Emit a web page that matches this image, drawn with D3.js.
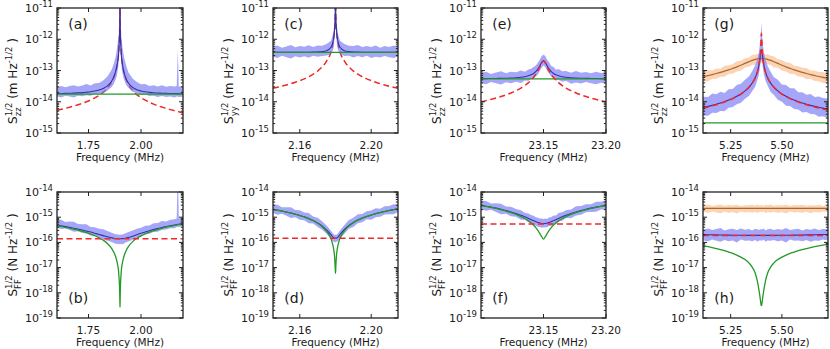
<!DOCTYPE html>
<html><head><meta charset="utf-8">
<script src="https://cdn.jsdelivr.net/npm/d3@7"></script>
<style>body{margin:0;background:#fff} text{font-family:"DejaVu Sans",sans-serif;fill:#1a1a1a}</style>
</head><body><svg id="c" width="830" height="349"></svg>
<script>
// ---------- axis settings ----------
const aDomain=[1.6,2.2], cDomain=[2.145,2.215], eDomain=[23.1,23.2], gDomain=[5.115,5.725];
const aTicks=[1.75,2.00], cTicks=[2.16,2.20], eTicks=[23.15,23.20], gTicks=[5.25,5.50];
const aTickLabels=['1.75','2.00'], cTickLabels=['2.16','2.20'], eTickLabels=['23.15','23.20'], gTickLabels=['5.25','5.50'];
const topDomain=[1e-15,1e-11], bottomDomain=[1e-19,1e-14];
const topExps=[-15,-14,-13,-12,-11], bottomExps=[-19,-18,-17,-16,-15,-14];

// ---------- panels (a)/(b) ----------
const aFreq=[1.60,1.62,1.64,1.66,1.68,1.70,1.72,1.74,1.76,1.78,1.80,1.82,1.84,1.86,1.87,1.88,1.885,1.89,1.893,1.895,1.897,1.8985,1.8993,1.8997,1.90,1.9003,1.9007,1.9015,1.903,1.905,1.907,1.91,1.915,1.92,1.93,1.94,1.96,1.98,2.00,2.02,2.04,2.06,2.08,2.10,2.12,2.14,2.16,2.17,2.175,2.18,2.20];
const aFit=[1.83e-14,1.84e-14,1.85e-14,1.87e-14,1.89e-14,1.92e-14,1.96e-14,2.02e-14,2.09e-14,2.2e-14,2.37e-14,2.66e-14,3.22e-14,4.55e-14,6.15e-14,9.66e-14,1.36e-13,2.21e-13,3.3e-13,5.5e-13,1e-12,2.2e-12,5e-12,1.1e-11,3e-11,9.5e-12,4.3e-12,1.9e-12,8.5e-13,4.7e-13,2.8e-13,1.88e-13,1.16e-13,8.29e-14,5.3e-14,4e-14,2.89e-14,2.43e-14,2.21e-14,2.08e-14,2e-14,1.94e-14,1.9e-14,1.88e-14,1.85e-14,1.84e-14,1.83e-14,1.82e-14,1.82e-14,1.81e-14,1.81e-14];
const aHi=[2.9e-14,3.2e-14,2.9e-14,3.2e-14,3.4e-14,3.1e-14,3.3e-14,3.7e-14,3.3e-14,3.9e-14,4e-14,4.8e-14,6.4e-14,1.05e-13,1.6e-13,2.9e-13,4.8e-13,8.4e-13,1.15e-12,1.65e-12,2.5e-12,4.4e-12,1e-11,2.2e-11,6e-11,1.9e-11,8.6e-12,4.2e-12,2.2e-12,1.4e-12,9.8e-13,6.8e-13,3.9e-13,2.5e-13,1.4e-13,8.8e-14,5.5e-14,4.3e-14,3.6e-14,3.7e-14,3.2e-14,3.4e-14,3.1e-14,3.4e-14,3e-14,3.2e-14,3.1e-14,3.2e-14,4.6e-13,3.1e-14,3e-14];
const aLo=[1.46e-14,1.38e-14,1.57e-14,1.46e-14,1.36e-14,1.57e-14,1.49e-14,1.62e-14,1.55e-14,1.76e-14,1.78e-14,1.92e-14,2.25e-14,2.96e-14,3.7e-14,5.3e-14,6.8e-14,1.1e-13,1.65e-13,2.75e-13,5e-13,1.1e-12,2.5e-12,5.5e-12,1.5e-11,4.8e-12,2.2e-12,9.5e-13,4.3e-13,2.4e-13,1.4e-13,9.4e-14,6.4e-14,5e-14,3.4e-14,2.8e-14,2.08e-14,1.9e-14,1.66e-14,1.7e-14,1.52e-14,1.55e-14,1.41e-14,1.54e-14,1.42e-14,1.47e-14,1.37e-14,1.46e-14,1.46e-14,1.41e-14,1.45e-14];
const aRed=[5.33e-15,5.71e-15,6.15e-15,6.67e-15,7.27e-15,8e-15,8.89e-15,1e-14,1.14e-14,1.33e-14,1.6e-14,2e-14,2.7e-14,4.2e-14,5.9e-14,9.5e-14,1.35e-13,2.2e-13,3.3e-13,5.5e-13,1e-12,2.2e-12,5e-12,1.1e-11,3e-11,9.5e-12,4.3e-12,1.9e-12,8.5e-13,4.7e-13,2.8e-13,1.87e-13,1.15e-13,8.1e-14,5e-14,3.6e-14,2.3e-14,1.69e-14,1.35e-14,1.13e-14,9.6e-15,8.4e-15,7.5e-15,6.75e-15,6.1e-15,5.6e-15,5.2e-15,5e-15,4.9e-15,4.8e-15,4.5e-15];
const aGreenFreq=[1.6,2.2], aGreen=[1.75e-14,1.75e-14];
const bGreen=[4.6e-16,4.29e-16,3.98e-16,3.67e-16,3.37e-16,3.06e-16,2.76e-16,2.45e-16,2.15e-16,1.84e-16,1.53e-16,1.23e-16,9.1e-17,5.8e-17,4.15e-17,2.58e-17,1.81e-17,1.11e-17,7.4e-18,4.45e-18,2.45e-18,1.11e-18,4.9e-19,3.6e-19,2.7e-19,3.6e-19,5.7e-19,1.29e-18,2.88e-18,5.2e-18,8.75e-18,1.31e-17,2.13e-17,3.02e-17,4.9e-17,6.8e-17,1.07e-16,1.45e-16,1.81e-16,2.17e-16,2.55e-16,2.92e-16,3.27e-16,3.63e-16,4.02e-16,4.38e-16,4.71e-16,4.9e-16,5e-16,5.1e-16,5.44e-16];
const bFit=[4.81e-16,4.51e-16,4.22e-16,3.93e-16,3.65e-16,3.36e-16,3.1e-16,2.82e-16,2.57e-16,2.31e-16,2.07e-16,1.86e-16,1.67e-16,1.52e-16,1.46e-16,1.42e-16,1.41e-16,1.4e-16,1.4e-16,1.4e-16,1.4e-16,1.4e-16,1.4e-16,1.4e-16,1.4e-16,1.4e-16,1.4e-16,1.4e-16,1.4e-16,1.4e-16,1.4e-16,1.41e-16,1.42e-16,1.43e-16,1.48e-16,1.56e-16,1.76e-16,2.02e-16,2.29e-16,2.58e-16,2.91e-16,3.24e-16,3.56e-16,3.89e-16,4.26e-16,4.6e-16,4.91e-16,5.1e-16,5.19e-16,5.29e-16,5.62e-16];
const bHi=[7.7e-16,7.9e-16,6.5e-16,6.7e-16,6.6e-16,5.4e-16,5.3e-16,5.2e-16,4.1e-16,4e-16,3.5e-16,3.35e-16,2.84e-16,2.43e-16,2.26e-16,2.13e-16,2.04e-16,2.1e-16,1.96e-16,2.1e-16,2.03e-16,1.96e-16,2e-16,1.95e-16,2.05e-16,1.95e-16,2e-16,2.1e-16,1.95e-16,2.05e-16,2.1e-16,2.03e-16,2.13e-16,2.2e-16,2.37e-16,2.57e-16,3e-16,3.5e-16,3.8e-16,4.6e-16,4.7e-16,5.7e-16,5.9e-16,7e-16,6.8e-16,8e-16,8.3e-16,8.9e-16,1e-13,9e-16,9e-16];
const bLo=[3.85e-16,3.38e-16,3.59e-16,3.07e-16,2.63e-16,2.76e-16,2.36e-16,2.26e-16,1.9e-16,1.85e-16,1.55e-16,1.34e-16,1.17e-16,1.03e-16,9.5e-17,8.8e-17,8.5e-17,9.1e-17,8.1e-17,8.7e-17,8.4e-17,9.1e-17,8.4e-17,8.8e-17,8.2e-17,8.8e-17,8.5e-17,9e-17,8.3e-17,8.8e-17,8.4e-17,8.7e-17,8.5e-17,9.3e-17,1.01e-16,1.09e-16,1.27e-16,1.58e-16,1.72e-16,2.12e-16,2.21e-16,2.59e-16,2.63e-16,3.19e-16,3.28e-16,3.68e-16,3.68e-16,4.08e-16,4.15e-16,4.13e-16,4.5e-16];
const bRedFreq=[1.6,2.2], bRed=[1.4e-16,1.4e-16];

// ---------- panels (c)/(d) ----------
const cFreq=[2.145,2.1475,2.15,2.1525,2.155,2.1575,2.16,2.1625,2.165,2.1675,2.17,2.1725,2.175,2.1775,2.1785,2.179,2.1795,2.1798,2.18,2.1802,2.1805,2.181,2.1815,2.1825,2.185,2.1875,2.19,2.1925,2.195,2.1975,2.2,2.2025,2.205,2.2075,2.21,2.2125,2.215];
const cFit=[3.81e-13,3.81e-13,3.81e-13,3.815e-13,3.82e-13,3.82e-13,3.83e-13,3.84e-13,3.85e-13,3.875e-13,3.92e-13,4.02e-13,4.29e-13,5.52e-13,7.96e-13,1.12e-12,2.13e-12,5.01e-12,3e-11,5.01e-12,2.13e-12,1.12e-12,7.96e-13,5.52e-13,4.29e-13,4.02e-13,3.92e-13,3.875e-13,3.85e-13,3.84e-13,3.83e-13,3.82e-13,3.82e-13,3.815e-13,3.81e-13,3.81e-13,3.81e-13];
const cRed=[2.7e-14,2.91e-14,3.15e-14,3.44e-14,3.78e-14,4.2e-14,4.73e-14,5.4e-14,6.3e-14,7.6e-14,9.6e-14,1.3e-13,2e-13,4e-13,7e-13,1.05e-12,2.1e-12,5e-12,3e-11,5e-12,2.1e-12,1.05e-12,7e-13,4e-13,2e-13,1.3e-13,9.6e-14,7.6e-14,6.3e-14,5.4e-14,4.73e-14,4.2e-14,3.78e-14,3.44e-14,3.15e-14,2.91e-14,2.7e-14];
const cHi=[5.7e-13,6.3e-13,5.3e-13,5.9e-13,6.5e-13,5.5e-13,6.1e-13,5.8e-13,6.4e-13,5.6e-13,6.3e-13,6.2e-13,7e-13,9e-13,1.4e-12,2e-12,3.6e-12,8e-12,6e-11,8e-12,3.6e-12,2e-12,1.4e-12,9e-13,7e-13,6.2e-13,6.1e-13,6.6e-13,5.6e-13,6.1e-13,5.7e-13,6.3e-13,5.3e-13,6.1e-13,5.7e-13,6.3e-13,5.7e-13];
const cLo=[2.74e-13,2.51e-13,2.97e-13,2.67e-13,2.44e-13,2.87e-13,2.6e-13,2.84e-13,2.54e-13,2.95e-13,2.74e-13,2.9e-13,3e-13,3.3e-13,4.4e-13,5.6e-13,1.07e-12,2.5e-12,1.5e-11,2.5e-12,1.07e-12,5.6e-13,4.4e-13,3.3e-13,2.92e-13,2.97e-13,2.59e-13,2.9e-13,2.66e-13,2.96e-13,2.49e-13,2.75e-13,2.6e-13,2.9e-13,2.67e-13,2.51e-13,2.78e-13];
const cGreenFreq=[2.145,2.215], cGreen=[3.8e-13,3.8e-13];
const dGreen=[2.04e-15,1.89e-15,1.75e-15,1.6e-15,1.46e-15,1.31e-15,1.16e-15,1.02e-15,8.7e-16,7.25e-16,5.74e-16,4.24e-16,2.76e-16,1.38e-16,7.9e-17,5.2e-17,2.6e-17,1.1e-17,5.9e-18,1.15e-17,2.7e-17,5.5e-17,8.3e-17,1.45e-16,2.9e-16,4.45e-16,6e-16,7.6e-16,9.1e-16,1.07e-15,1.22e-15,1.38e-15,1.53e-15,1.68e-15,1.84e-15,1.98e-15,2.14e-15];
const dFit=[2.05e-15,1.9e-15,1.76e-15,1.61e-15,1.47e-15,1.32e-15,1.17e-15,1.03e-15,8.82e-16,7.4e-16,5.92e-16,4.48e-16,3.12e-16,2e-16,1.65e-16,1.54e-16,1.47e-16,1.455e-16,1.45e-16,1.455e-16,1.47e-16,1.55e-16,1.67e-16,2.06e-16,3.25e-16,4.68e-16,6.2e-16,7.7e-16,9.2e-16,1.07e-15,1.22e-15,1.38e-15,1.54e-15,1.69e-15,1.85e-15,2e-15,2.15e-15];
const dHi=[3.1e-15,3.1e-15,2.46e-15,2.5e-15,2.5e-15,1.91e-15,1.87e-15,1.55e-15,1.46e-15,1.07e-15,9.5e-16,6.9e-16,4.7e-16,2.9e-16,2.3e-16,2.16e-16,1.98e-16,2.04e-16,1.96e-16,2.04e-16,1.98e-16,2.17e-16,2.34e-16,2.99e-16,4.9e-16,7.7e-16,9.6e-16,1.31e-15,1.33e-15,1.71e-15,1.83e-15,2.28e-15,2.16e-15,2.7e-15,2.78e-15,3.3e-15,3.2e-15];
const dLo=[1.48e-15,1.25e-15,1.37e-15,1.13e-15,9.4e-16,9.9e-16,8e-16,7.6e-16,5.8e-16,5.6e-16,4.1e-16,3.2e-16,2.18e-16,1.36e-16,1.09e-16,1.08e-16,1e-16,1.05e-16,9.9e-17,1.02e-16,1.06e-16,1.05e-16,1.17e-16,1.44e-16,2.21e-16,3.46e-16,4.1e-16,5.8e-16,6.3e-16,8.2e-16,7.9e-16,9.9e-16,1.05e-15,1.28e-15,1.3e-15,1.32e-15,1.57e-15];
const dRedFreq=[2.145,2.215], dRed=[1.45e-16,1.45e-16];

// ---------- panels (e)/(f) ----------
const eFreq=[23.1,23.104,23.108,23.112,23.116,23.12,23.124,23.128,23.132,23.135,23.138,23.14,23.142,23.144,23.1455,23.147,23.1485,23.15,23.1515,23.153,23.1545,23.156,23.158,23.16,23.162,23.165,23.168,23.172,23.176,23.18,23.184,23.188,23.192,23.196,23.2];
const eFit=[5.49e-14,5.51e-14,5.53e-14,5.56e-14,5.6e-14,5.65e-14,5.73e-14,5.85e-14,6.06e-14,6.32e-14,6.77e-14,7.26e-14,8.05e-14,9.4e-14,1.11e-13,1.39e-13,1.8e-13,2.07e-13,1.8e-13,1.39e-13,1.11e-13,9.4e-14,8.05e-14,7.26e-14,6.77e-14,6.32e-14,6.06e-14,5.85e-14,5.73e-14,5.65e-14,5.6e-14,5.56e-14,5.53e-14,5.51e-14,5.49e-14];
const eRed=[9.99e-15,1.085e-14,1.19e-14,1.31e-14,1.47e-14,1.66e-14,1.91e-14,2.26e-14,2.75e-14,3.29e-14,4.08e-14,4.85e-14,5.97e-14,7.69e-14,9.71e-14,1.28e-13,1.715e-13,2e-13,1.715e-13,1.28e-13,9.71e-14,7.69e-14,5.97e-14,4.85e-14,4.08e-14,3.29e-14,2.75e-14,2.26e-14,1.91e-14,1.66e-14,1.47e-14,1.31e-14,1.19e-14,1.085e-14,9.99e-15];
const eHi=[8.2e-14,9.1e-14,7.7e-14,8.6e-14,9.5e-14,8.2e-14,9.2e-14,8.8e-14,1e-13,9.2e-14,1.08e-13,1.13e-13,1.29e-13,1.46e-13,1.78e-13,2.2e-13,2.9e-13,3.2e-13,2.9e-13,2.15e-13,1.83e-13,1.41e-13,1.29e-13,1.05e-13,1.12e-13,9.5e-14,9.7e-14,8.5e-14,9.7e-14,8.5e-14,9e-14,8.1e-14,9.1e-14,8.3e-14,8.8e-14];
const eLo=[3.95e-14,3.64e-14,4.31e-14,3.89e-14,3.58e-14,4.24e-14,3.9e-14,4.33e-14,4e-14,4.8e-14,4.74e-14,5.23e-14,5.64e-14,6.58e-14,7.5e-14,9.7e-14,1.22e-13,1.45e-13,1.26e-13,9.5e-14,8e-14,6.4e-14,5.96e-14,4.79e-14,5.08e-14,4.36e-14,4.67e-14,3.8e-14,4.13e-14,3.84e-14,4.26e-14,3.89e-14,3.65e-14,4.02e-14,3.84e-14];
const eGreenFreq=[23.1,23.2], eGreen=[5.4e-14,5.4e-14];
const fFit=[2.97e-15,2.74e-15,2.51e-15,2.29e-15,2.05e-15,1.84e-15,1.62e-15,1.4e-15,1.19e-15,1.04e-15,8.95e-16,8.07e-16,7.27e-16,6.59e-16,6.18e-16,5.86e-16,5.66e-16,5.59e-16,5.66e-16,5.86e-16,6.18e-16,6.59e-16,7.27e-16,8.07e-16,8.95e-16,1.04e-15,1.19e-15,1.4e-15,1.62e-15,1.84e-15,2.05e-15,2.29e-15,2.51e-15,2.74e-15,2.97e-15];
const fGreen=[2.92e-15,2.69e-15,2.45e-15,2.23e-15,1.98e-15,1.76e-15,1.53e-15,1.29e-15,1.06e-15,8.86e-16,7.15e-16,6.01e-16,4.88e-16,3.79e-16,3e-16,2.28e-16,1.7e-16,1.35e-16,1.7e-16,2.28e-16,3e-16,3.79e-16,4.88e-16,6.01e-16,7.15e-16,8.86e-16,1.06e-15,1.29e-15,1.53e-15,1.76e-15,1.98e-15,2.23e-15,2.45e-15,2.69e-15,2.92e-15];
const fHi=[4.5e-15,4.4e-15,3.5e-15,3.55e-15,3.4e-15,2.67e-15,2.6e-15,2.1e-15,1.9e-15,1.51e-15,1.39e-15,1.21e-15,1.13e-15,9.9e-16,9.6e-16,8.8e-16,8.8e-16,8.4e-16,8.8e-16,8.5e-16,9.9e-16,9.9e-16,1.16e-15,1.17e-15,1.48e-15,1.56e-15,1.9e-15,2.03e-15,2.75e-15,2.76e-15,3.3e-15,3.3e-15,4.1e-15,4.1e-15,4.75e-15];
const fLo=[2.14e-15,1.81e-15,1.96e-15,1.6e-15,1.31e-15,1.38e-15,1.1e-15,1.04e-15,7.9e-16,7.9e-16,6.3e-16,5.8e-16,5.1e-16,4.6e-16,4.2e-16,4.1e-16,3.85e-16,3.9e-16,3.96e-16,3.98e-16,4.45e-16,4.48e-16,5.4e-16,5.3e-16,6.7e-16,7.2e-16,9.2e-16,9.1e-16,1.17e-15,1.25e-15,1.56e-15,1.6e-15,1.66e-15,2e-15,2.08e-15];
const fRedFreq=[23.1,23.2], fRed=[5.4e-16,5.4e-16];

// ---------- panels (g)/(h) ----------
const gFreq=[5.115,5.14,5.16,5.18,5.2,5.22,5.24,5.26,5.28,5.3,5.32,5.34,5.355,5.37,5.38,5.388,5.393,5.396,5.398,5.399,5.4,5.401,5.402,5.404,5.407,5.412,5.42,5.43,5.445,5.46,5.48,5.5,5.52,5.54,5.56,5.58,5.6,5.62,5.64,5.66,5.68,5.7,5.725];
const gFit=[6.56e-15,7.13e-15,7.67e-15,8.32e-15,9.1e-15,1.005e-14,1.13e-14,1.28e-14,1.49e-14,1.78e-14,2.22e-14,2.96e-14,3.94e-14,5.9e-14,8.85e-14,1.48e-13,2.5e-13,3.6e-13,4.2e-13,4.5e-13,4.6e-13,4.5e-13,4.2e-13,3.6e-13,2.5e-13,1.48e-13,8.85e-14,5.9e-14,3.94e-14,2.96e-14,2.22e-14,1.78e-14,1.49e-14,1.28e-14,1.13e-14,1.005e-14,9.1e-15,8.32e-15,7.67e-15,7.13e-15,6.66e-15,6.26e-15,5.84e-15];
const gRed=[6.21e-15,6.81e-15,7.38e-15,8.05e-15,8.85e-15,9.83e-15,1.11e-14,1.26e-14,1.48e-14,1.77e-14,2.21e-14,2.95e-14,3.93e-14,5.9e-14,8.85e-14,1.48e-13,2.53e-13,4.43e-13,8.85e-13,1.3e-12,1.55e-12,1.3e-12,8.85e-13,4.43e-13,2.53e-13,1.48e-13,8.85e-14,5.9e-14,3.93e-14,2.95e-14,2.21e-14,1.77e-14,1.48e-14,1.26e-14,1.11e-14,9.83e-15,8.85e-15,8.05e-15,7.38e-15,6.81e-15,6.32e-15,5.9e-15,5.45e-15];
const gHi=[1.44e-14,1.43e-14,1.84e-14,1.75e-14,2.09e-14,1.91e-14,2.49e-14,2.56e-14,3.43e-14,3.74e-14,5.1e-14,6.5e-14,9.5e-14,1.48e-13,2.3e-13,4e-13,7.5e-13,1.26e-12,1.9e-12,2.7e-12,3.4e-12,2.5e-12,1.8e-12,1.2e-12,7.3e-13,3.8e-13,2.2e-13,1.42e-13,9.1e-14,6.2e-14,5.1e-14,3.56e-14,3.43e-14,2.69e-14,2.71e-14,2.01e-14,2e-14,1.66e-14,1.76e-14,1.43e-14,1.47e-14,1.31e-14,1.28e-14];
const gLo=[3.6e-15,3.57e-15,4.45e-15,4.33e-15,5.1e-15,5e-15,6.4e-15,6.8e-15,8.3e-15,9.3e-15,1.24e-14,1.57e-14,2.17e-14,3.07e-14,4.9e-14,7.4e-14,1.25e-13,1.8e-13,2.1e-13,2.2e-13,2.3e-13,2.2e-13,2.1e-13,1.8e-13,1.25e-13,7.4e-14,4.7e-14,3.3e-14,2.05e-14,1.69e-14,1.15e-14,1e-14,7.5e-15,7.3e-15,5.9e-15,5.6e-15,4.55e-15,4.74e-15,4.07e-15,4e-15,3.33e-15,3.44e-15,3.04e-15];
const gBrown=[6.3e-14,6.88e-14,7.4e-14,8e-14,8.7e-14,9.53e-14,1.05e-13,1.17e-13,1.31e-13,1.48e-13,1.69e-13,1.92e-13,2.11e-13,2.28e-13,2.37e-13,2.42e-13,2.44e-13,2.45e-13,2.45e-13,2.45e-13,2.45e-13,2.45e-13,2.45e-13,2.45e-13,2.44e-13,2.42e-13,2.37e-13,2.28e-13,2.11e-13,1.92e-13,1.69e-13,1.48e-13,1.31e-13,1.17e-13,1.05e-13,9.53e-14,8.7e-14,8e-14,7.4e-14,6.88e-14,6.41e-14,6.02e-14,5.58e-14];
const gOrangeHi=[8.8e-14,1.03e-13,1e-13,1.16e-13,1.13e-13,1.43e-13,1.47e-13,1.58e-13,1.97e-13,2.07e-13,2.45e-13,2.59e-13,3.17e-13,3.19e-13,3.44e-13,3.27e-13,3.66e-13,3.43e-13,3.19e-13,3.55e-13,3.43e-13,3.68e-13,3.31e-13,3.55e-13,3.42e-13,3.63e-13,3.2e-13,3.31e-13,2.95e-13,2.88e-13,2.28e-13,2.15e-13,1.83e-13,1.76e-13,1.42e-13,1.38e-13,1.22e-13,1.2e-13,1e-13,9.98e-14,8.97e-14,9e-14,7.8e-14];
const gOrangeLo=[4.41e-14,4.47e-14,5.48e-14,5.44e-14,6.26e-14,6.29e-14,7.67e-14,7.84e-14,9.3e-14,9.77e-14,1.25e-13,1.31e-13,1.52e-13,1.5e-13,1.73e-13,1.62e-13,1.73e-13,1.67e-13,1.81e-13,1.62e-13,1.76e-13,1.64e-13,1.79e-13,1.67e-13,1.73e-13,1.6e-13,1.75e-13,1.55e-13,1.52e-13,1.27e-13,1.23e-13,9.92e-14,9.3e-14,7.72e-14,7.77e-14,6.48e-14,6.26e-14,5.28e-14,5.4e-14,4.61e-14,4.55e-14,3.97e-14,3.91e-14];
const gGreenFreq=[5.115,5.725], gGreen=[2.1e-15,2.1e-15];
const hGreen=[7.41e-17,6.75e-17,6.23e-17,5.71e-17,5.2e-17,4.68e-17,4.14e-17,3.65e-17,3.11e-17,2.6e-17,2.08e-17,1.5e-17,1.05e-17,6e-18,3e-18,1.3e-18,7e-19,4.5e-19,3.5e-19,3.2e-19,3.1e-19,3.2e-19,3.5e-19,4.5e-19,7e-19,1.3e-18,3e-18,6e-18,1.05e-17,1.5e-17,2.08e-17,2.6e-17,3.11e-17,3.65e-17,4.14e-17,4.68e-17,5.2e-17,5.71e-17,6.23e-17,6.75e-17,7.28e-17,7.8e-17,8.44e-17];
const hFit=[2.04e-16,2.02e-16,2e-16,1.98e-16,1.97e-16,1.96e-16,1.94e-16,1.93e-16,1.93e-16,1.92e-16,1.91e-16,1.9e-16,1.9e-16,1.9e-16,1.9e-16,1.9e-16,1.9e-16,1.9e-16,1.9e-16,1.9e-16,1.9e-16,1.9e-16,1.9e-16,1.9e-16,1.9e-16,1.9e-16,1.9e-16,1.9e-16,1.9e-16,1.9e-16,1.91e-16,1.92e-16,1.93e-16,1.93e-16,1.94e-16,1.96e-16,1.97e-16,1.98e-16,2e-16,2.02e-16,2.03e-16,2.05e-16,2.07e-16];
const hHi=[3.2e-16,3.6e-16,3.1e-16,3.4e-16,3.7e-16,3.0e-16,3.3e-16,3.5e-16,3.1e-16,3.6e-16,3.2e-16,3.4e-16,3.0e-16,3.5e-16,3.3e-16,3.1e-16,3.3e-16,3.3e-16,3.3e-16,3.3e-16,3.3e-16,3.3e-16,3.3e-16,3.3e-16,3.3e-16,3.6e-16,3.0e-16,3.3e-16,3.5e-16,3.1e-16,3.4e-16,3.2e-16,3.7e-16,3.1e-16,3.3e-16,3.5e-16,3.0e-16,3.4e-16,3.2e-16,3.6e-16,3.1e-16,3.4e-16,3.3e-16];
const hLo=[1.2e-16,1.1e-16,1.3e-16,1.15e-16,1.05e-16,1.25e-16,1.1e-16,1.2e-16,1.0e-16,1.3e-16,1.15e-16,1.2e-16,1.1e-16,1.25e-16,1.05e-16,1.2e-16,1.2e-16,1.2e-16,1.2e-16,1.2e-16,1.2e-16,1.2e-16,1.2e-16,1.2e-16,1.2e-16,1.3e-16,1.05e-16,1.2e-16,1.15e-16,1.25e-16,1.1e-16,1.2e-16,1.0e-16,1.3e-16,1.15e-16,1.2e-16,1.1e-16,1.25e-16,1.05e-16,1.2e-16,1.15e-16,1.3e-16,1.2e-16];
const hOrangeHi=[2.9e-15,3.1e-15,2.8e-15,3.0e-15,3.2e-15,2.85e-15,3.05e-15,2.9e-15,3.15e-15,2.8e-15,3.0e-15,2.95e-15,3.1e-15,2.85e-15,3.2e-15,2.9e-15,2.95e-15,2.95e-15,2.95e-15,2.95e-15,2.95e-15,2.95e-15,2.95e-15,2.95e-15,2.95e-15,2.8e-15,3.1e-15,2.95e-15,3.2e-15,2.85e-15,3.0e-15,2.9e-15,3.1e-15,2.8e-15,3.05e-15,2.95e-15,3.15e-15,2.85e-15,3.0e-15,2.9e-15,3.1e-15,2.8e-15,3.0e-15];
const hOrangeLo=[1.6e-15,1.5e-15,1.7e-15,1.55e-15,1.45e-15,1.65e-15,1.5e-15,1.6e-15,1.4e-15,1.7e-15,1.55e-15,1.6e-15,1.5e-15,1.65e-15,1.45e-15,1.6e-15,1.6e-15,1.6e-15,1.6e-15,1.6e-15,1.6e-15,1.6e-15,1.6e-15,1.6e-15,1.6e-15,1.7e-15,1.45e-15,1.6e-15,1.55e-15,1.65e-15,1.5e-15,1.6e-15,1.4e-15,1.7e-15,1.55e-15,1.6e-15,1.5e-15,1.65e-15,1.45e-15,1.6e-15,1.55e-15,1.7e-15,1.6e-15];
const hBrownFreq=[5.115,5.725], hBrown=[2.25e-15,2.25e-15];
const hRedFreq=[5.115,5.725], hRed=[1.9e-16,1.9e-16];

// ---------- styles ----------
const C={band:'#7474f6',fit:'#3232a4',green:'#229a26',red:'#f02828',orange:'#f6b884',brown:'#b0682a'};
const colL=[57,273,481,703], colR=[183,398,606,828], rowT=[8,192], rowB=[133,318];
const yLabelMid=[81,255];

const band=(f,lo,hi,color,op)=>({type:'band',f,lo,hi,color,op});
const line=(f,v,color,w,dash)=>({type:'line',f,v,color,w,dash});
const RD='6,3.5', BO=0.64;

const panels=[
 {key:'a',col:0,row:0,xDom:aDomain,ticks:aTicks,tl:aTickLabels,sub:'zz',unit:'m',layers:[
   line(aFreq,aRed,C.red,1.5,RD), band(aFreq,aLo,aHi,C.band,BO), line(aFreq,aFit,C.fit,1.1), line(aGreenFreq,aGreen,C.green,1.3)]},
 {key:'b',col:0,row:1,xDom:aDomain,ticks:aTicks,tl:aTickLabels,sub:'FF',unit:'N',layers:[
   band(aFreq,bLo,bHi,C.band,BO), line(aFreq,bFit,C.fit,1.1), line(aFreq,bGreen,C.green,1.3), line(bRedFreq,bRed,C.red,1.5,RD)]},
 {key:'c',col:1,row:0,xDom:cDomain,ticks:cTicks,tl:cTickLabels,sub:'yy',unit:'m',layers:[
   line(cFreq,cRed,C.red,1.5,RD), band(cFreq,cLo,cHi,C.band,BO), line(cFreq,cFit,C.fit,1.1), line(cGreenFreq,cGreen,C.green,1.3)]},
 {key:'d',col:1,row:1,xDom:cDomain,ticks:cTicks,tl:cTickLabels,sub:'FF',unit:'N',layers:[
   band(cFreq,dLo,dHi,C.band,BO), line(cFreq,dFit,C.fit,1.1), line(cFreq,dGreen,C.green,1.3), line(dRedFreq,dRed,C.red,1.5,RD)]},
 {key:'e',col:2,row:0,xDom:eDomain,ticks:eTicks,tl:eTickLabels,sub:'zz',unit:'m',layers:[
   band(eFreq,eLo,eHi,C.band,BO), line(eFreq,eFit,C.fit,1.1), line(eGreenFreq,eGreen,C.green,1.3), line(eFreq,eRed,C.red,1.5,RD)]},
 {key:'f',col:2,row:1,xDom:eDomain,ticks:eTicks,tl:eTickLabels,sub:'FF',unit:'N',layers:[
   band(eFreq,fLo,fHi,C.band,BO), line(eFreq,fFit,C.fit,1.1), line(eFreq,fGreen,C.green,1.3), line(fRedFreq,fRed,C.red,1.5,RD)]},
 {key:'g',col:3,row:0,xDom:gDomain,ticks:gTicks,tl:gTickLabels,sub:'zz',unit:'m',layers:[
   band(gFreq,gOrangeLo,gOrangeHi,C.orange,0.6), line(gFreq,gBrown,C.brown,1.2),
   band(gFreq,gLo,gHi,C.band,BO), line(gFreq,gFit,C.fit,1.1), line(gGreenFreq,gGreen,C.green,1.3), line(gFreq,gRed,C.red,1.5,RD)]},
 {key:'h',col:3,row:1,xDom:gDomain,ticks:gTicks,tl:gTickLabels,sub:'FF',unit:'N',layers:[
   band(gFreq,hOrangeLo,hOrangeHi,C.orange,0.6), line(hBrownFreq,hBrown,C.brown,1.2),
   band(gFreq,hLo,hHi,C.band,BO), line(gFreq,hFit,C.fit,1.1), line(gFreq,hGreen,C.green,1.3), line(hRedFreq,hRed,C.red,1.5,RD)]}
];

const svg=d3.select('#c');
const defs=svg.append('defs');

function drawPanel(p){
  const L=colL[p.col],R=colR[p.col],T=rowT[p.row],B=rowB[p.row];
  const yDom=p.row===0?topDomain:bottomDomain, exps=p.row===0?topExps:bottomExps;
  const x=d3.scaleLinear().domain(p.xDom).range([L,R]);
  const y=d3.scaleLog().domain(yDom).range([B,T]);
  const cid='clip-'+p.key;
  defs.append('clipPath').attr('id',cid).append('rect').attr('x',L).attr('y',T).attr('width',R-L).attr('height',B-T);
  const g=svg.append('g').attr('clip-path',`url(#${cid})`);
  p.layers.forEach(ly=>{
    if(ly.type==='band'){
      const ar=d3.area().x((d,i)=>x(ly.f[i])).y0((d,i)=>y(ly.lo[i])).y1((d,i)=>y(ly.hi[i]));
      g.append('path').attr('d',ar(ly.f)).attr('fill',ly.color).attr('fill-opacity',ly.op);
    } else {
      const ln=d3.line().x((d,i)=>x(ly.f[i])).y((d,i)=>y(ly.v[i])).curve(d3.curveMonotoneX);
      g.append('path').attr('d',ln(ly.f)).attr('fill','none').attr('stroke',ly.color)
        .attr('stroke-width',ly.w).attr('stroke-dasharray',ly.dash||null);
    }
  });
  const ax=svg.append('g').attr('stroke','#222').attr('stroke-width',1);
  for(let k=0;k<exps.length-1;k++){
    for(let m=2;m<=9;m++){
      const yy=y(m*Math.pow(10,exps[k]));
      ax.append('line').attr('x1',L).attr('x2',L+2.2).attr('y1',yy).attr('y2',yy);
      ax.append('line').attr('x1',R).attr('x2',R-2.2).attr('y1',yy).attr('y2',yy);
    }
  }
  exps.forEach(e=>{
    const yy=y(Math.pow(10,e));
    ax.append('line').attr('x1',L).attr('x2',L+4).attr('y1',yy).attr('y2',yy);
    ax.append('line').attr('x1',R).attr('x2',R-4).attr('y1',yy).attr('y2',yy);
    const t=svg.append('text').attr('x',L-4).attr('y',yy+4).attr('text-anchor','end').style('font-size','11px');
    t.append('tspan').text('10');
    t.append('tspan').attr('dy',-5).style('font-size','8.5px').text('-'+Math.abs(e));
  });
  p.ticks.forEach((tv,i)=>{
    const xx=x(tv);
    ax.append('line').attr('x1',xx).attr('x2',xx).attr('y1',B).attr('y2',B-4);
    ax.append('line').attr('x1',xx).attr('x2',xx).attr('y1',T).attr('y2',T+4);
    svg.append('text').attr('x',xx).attr('y',B+15.5).attr('text-anchor','middle').style('font-size','10.5px').text(p.tl[i]);
  });
  svg.append('rect').attr('x',L).attr('y',T).attr('width',R-L).attr('height',B-T)
    .attr('fill','none').attr('stroke','#222').attr('stroke-width',1.3);
  svg.append('text').attr('x',(L+R)/2).attr('y',B+28).attr('text-anchor','middle').style('font-size','10.5px').text('Frequency (MHz)');
  svg.append('text').attr('x',L+11.3).attr('y',p.row===0?T+21:B-15).style('font-size','14px').text('('+p.key+')');
  const t=svg.append('text').attr('transform',`translate(${L-40},${yLabelMid[p.row]}) rotate(-90)`)
    .attr('text-anchor','middle').style('font-size','12px');
  t.append('tspan').text('S');
  const sp=t.append('tspan').attr('dy',-5).style('font-size','8.5px').text('1/2');
  const w1=sp.node().getComputedTextLength();
  const sb=t.append('tspan').attr('dx',-w1).attr('dy',9).style('font-size','8.5px').text(p.sub);
  const w2=sb.node().getComputedTextLength();
  t.append('tspan').attr('dx',Math.max(0,w1-w2)).attr('dy',-4).text(' ('+p.unit+' Hz');
  t.append('tspan').attr('dy',-5).style('font-size','8.5px').text('-1/2');
  t.append('tspan').attr('dy',5).text(' )');
}
panels.forEach(drawPanel);
</script></body></html>
